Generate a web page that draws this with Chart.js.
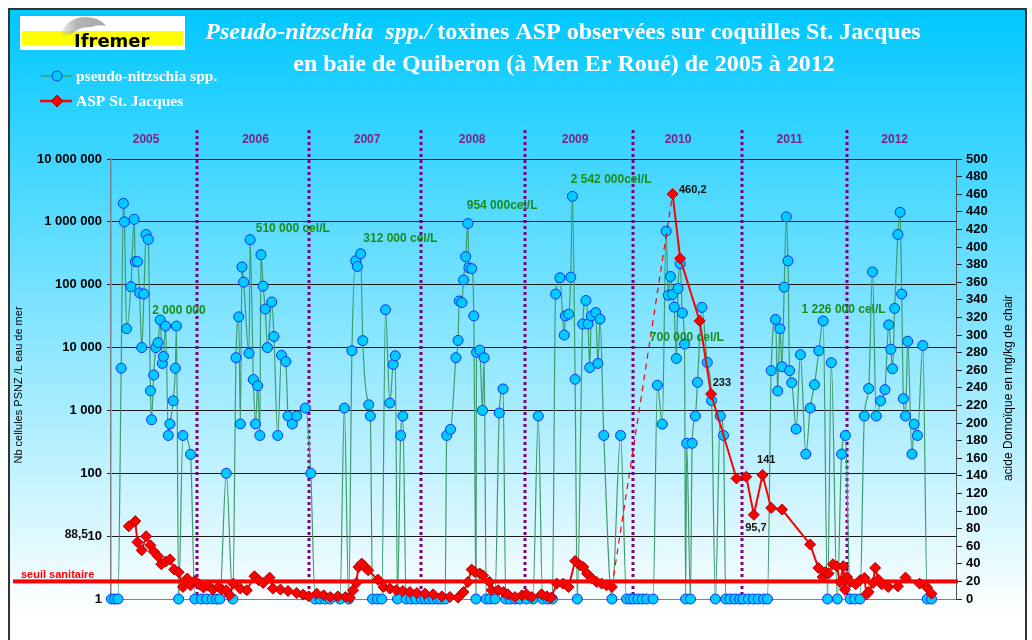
<!DOCTYPE html>
<html>
<head>
<meta charset="utf-8">
<script src="https://cdn.jsdelivr.net/npm/chart.js@4.4.1/dist/chart.umd.min.js"></script>
<style>
  html, body { margin: 0; padding: 0; background: #fff; }
  canvas { display: block; }
</style>
</head>
<body>
<canvas id="chart" width="1032" height="640"></canvas>
<script>
// Pseudo-nitzschia counts (cells/L), sampling dates as decimal years
const pnDates = [
  2005.21, 2005.24, 2005.27, 2005.30, 2005.32, 2005.33, 2005.35, 2005.39, 2005.42, 2005.43, 2005.45, 2005.47,
  2005.49, 2005.51, 2005.53, 2005.55, 2005.57, 2005.58, 2005.60, 2005.62, 2005.64, 2005.66, 2005.68, 2005.69,
  2005.71, 2005.735, 2005.75, 2005.78, 2005.80, 2005.81, 2005.83, 2005.87, 2005.94, 2005.98,
  2006.04, 2006.09, 2006.14, 2006.18, 2006.21, 2006.27, 2006.33, 2006.36, 2006.385, 2006.40, 2006.415, 2006.43,
  2006.48, 2006.49, 2006.52, 2006.54, 2006.56, 2006.58, 2006.59, 2006.61, 2006.63, 2006.65, 2006.69, 2006.71,
  2006.745, 2006.78, 2006.82, 2006.84, 2006.88, 2006.92, 2007.00, 2007.05,
  2007.09, 2007.135, 2007.18, 2007.23, 2007.32, 2007.36, 2007.40, 2007.43, 2007.465, 2007.48, 2007.51, 2007.53,
  2007.585, 2007.60, 2007.62, 2007.665, 2007.705, 2007.74, 2007.78, 2007.81, 2007.83, 2007.85, 2007.88, 2007.90,
  2007.93, 2007.975,
  2008.02, 2008.07, 2008.105, 2008.14, 2008.18, 2008.22, 2008.25, 2008.29, 2008.305, 2008.34, 2008.39, 2008.41,
  2008.42, 2008.445, 2008.46, 2008.48, 2008.50, 2008.51, 2008.535, 2008.555, 2008.575, 2008.58, 2008.61, 2008.635,
  2008.65, 2008.67, 2008.705, 2008.75, 2008.79, 2008.825, 2008.85, 2008.89, 2008.935, 2008.98,
  2009.04, 2009.10, 2009.15, 2009.19, 2009.24, 2009.28, 2009.31, 2009.35, 2009.39, 2009.40, 2009.43, 2009.45,
  2009.465, 2009.49, 2009.51, 2009.56, 2009.59, 2009.61, 2009.625, 2009.64, 2009.68, 2009.70, 2009.72, 2009.755,
  2009.83, 2009.91, 2009.965,
  2010.00, 2010.03, 2010.07, 2010.11, 2010.15, 2010.21, 2010.25, 2010.295, 2010.33, 2010.35, 2010.37, 2010.39,
  2010.405, 2010.425, 2010.44, 2010.46, 2010.48, 2010.50, 2010.51, 2010.52, 2010.555, 2010.57, 2010.60, 2010.62,
  2010.66, 2010.71, 2010.75, 2010.785, 2010.83, 2010.86, 2010.88, 2010.92, 2010.965,
  2011.01, 2011.04, 2011.09, 2011.135, 2011.18, 2011.23, 2011.265, 2011.30, 2011.34, 2011.36, 2011.38, 2011.40,
  2011.42, 2011.44, 2011.455, 2011.47, 2011.49, 2011.53, 2011.57, 2011.62, 2011.66, 2011.70, 2011.74, 2011.78,
  2011.82, 2011.855, 2011.91, 2011.95, 2011.985,
  2012.03, 2012.07, 2012.12, 2012.16, 2012.20, 2012.235, 2012.27, 2012.31, 2012.35, 2012.385, 2012.405, 2012.42,
  2012.44, 2012.47, 2012.49, 2012.505, 2012.52, 2012.54, 2012.56, 2012.60, 2012.62, 2012.65, 2012.70, 2012.74,
  2012.78
];
const pnCells = [
  1, 1, 1, 4700, 1970000, 1000000, 20000, 93000, 1100000, 233000, 233000, 74000,
  10000, 71000, 630000, 525000, 2050, 710, 3660, 10000, 12000, 27500, 5600, 7200,
  22000, 400, 610, 1420, 4700, 22000, 1, 400, 200, 1,
  1, 1, 1, 1, 1, 100, 1, 6900, 30800, 610, 191000, 110000,
  8100, 520000, 3100, 610, 2470, 400, 300000, 95000, 41000, 10000, 53000, 15000,
  400, 7550, 6000, 815, 610, 815, 1090, 100,
  1, 1, 1, 1, 1, 1090, 1, 8900, 240000, 195000, 310000, 12900,
  1230, 815, 1, 1, 1, 40000, 1310, 5400, 7400, 1, 400, 815,
  1, 1,
  1, 1, 1, 1, 1, 1, 1, 1, 400, 500, 6900, 13000,
  55000, 52000, 119000, 279000, 940000, 186000, 180000, 31900, 1, 8400, 9100, 1000,
  6900, 1, 1, 1, 910, 2200, 1, 1, 1, 1,
  1, 1, 815, 1, 1, 1, 71000, 129000, 15800, 31900, 34000, 132000,
  2542000, 3130, 1, 23700, 56000, 23700, 4800, 31900, 36000, 5600, 28500, 400,
  1, 400, 1,
  1, 1, 1, 1, 1, 1, 2520, 605, 710000, 68000, 135000, 70000,
  44000, 6700, 87000, 216000, 35500, 11400, 1, 300, 1, 300, 815, 2800,
  43600, 5800, 1430, 1, 815, 400, 1, 1, 1,
  1, 1, 1, 1, 1, 1, 1, 4300, 28000, 2040, 20000, 4950,
  91500, 1200000, 240000, 4300, 2760, 505, 7700, 202, 1090, 2570, 8900, 26500,
  1, 5750, 1, 202, 400,
  1, 1, 1, 815, 2230, 160000, 815, 1420, 2140, 23000, 9400, 4600,
  42000, 630000, 1420000, 71000, 1540, 815, 12600, 202, 605, 400, 10800, 1,
  1
];

// ASP (domoic acid) in scallops, mg/kg
const aspDates = [
  2005.37, 2005.43, 2005.45, 2005.49, 2005.53, 2005.57, 2005.60, 2005.64, 2005.67, 2005.71, 2005.75, 2005.79,
  2005.83, 2005.87, 2005.91, 2005.94, 2005.98,
  2006.02, 2006.06, 2006.10, 2006.145, 2006.20, 2006.23, 2006.27, 2006.30, 2006.335, 2006.40, 2006.46, 2006.53,
  2006.57, 2006.61, 2006.67, 2006.70, 2006.77, 2006.84, 2006.92, 2006.98,
  2007.03, 2007.105, 2007.17, 2007.23, 2007.30, 2007.37, 2007.41, 2007.44, 2007.47, 2007.49, 2007.52, 2007.55,
  2007.58, 2007.67, 2007.72, 2007.78, 2007.84, 2007.90, 2007.965,
  2008.03, 2008.105, 2008.18, 2008.26, 2008.335, 2008.41, 2008.46, 2008.50, 2008.535, 2008.565, 2008.61, 2008.64,
  2008.70, 2008.72, 2008.78, 2008.83, 2008.87, 2008.935,
  2009.00, 2009.04, 2009.09, 2009.18, 2009.23, 2009.27, 2009.32, 2009.38, 2009.43, 2009.49, 2009.535, 2009.565,
  2009.60, 2009.645, 2009.69, 2009.735, 2009.78, 2009.83,
  2010.39, 2010.46, 2010.64, 2010.745, 2010.98,
  2011.07, 2011.14, 2011.22, 2011.30, 2011.40, 2011.66, 2011.735, 2011.775, 2011.80, 2011.83, 2011.87, 2011.905,
  2011.935, 2011.965, 2011.98,
  2012.00, 2012.03, 2012.08, 2012.12, 2012.16, 2012.18, 2012.20, 2012.24, 2012.26, 2012.29, 2012.32, 2012.38,
  2012.47, 2012.54, 2012.67, 2012.74, 2012.78
];
const aspValues = [
  82.7, 88.5, 64.5, 55.4, 71.3, 61, 54, 48.6, 39.5, 42.5, 45, 33.4,
  30.4, 13.7, 23.2, 15.6, 20.5,
  16.7, 13, 15.6, 10.7, 13.7, 10.7, 10, 4.2, 17.5, 11.8, 10, 25.8,
  21.3, 18.2, 24.3, 11.8, 10.7, 9.1, 6.8, 5,
  3, 6.1, 4.2, 2.3, 3, 2.3, 1.6, 10, 18.2, 36.4, 40.3, 36.4,
  32.7, 22, 13.7, 11.8, 10, 9.1, 8,
  6.8, 6.1, 5.3, 3, 2.3, 1.6, 8, 19.3, 33.4, 30.7, 28.9, 26.8,
  19.3, 10, 10, 8, 5.3, 2.3,
  4.2, 5.3, 2.3, 5.3, 3, 1.6, 17.5, 17.5, 13.7, 43.2, 38.3, 36.4,
  28.9, 23.2, 19.3, 17.5, 15.6, 13.7,
  460.2, 387, 316, 233, 137,
  139, 95.7, 141, 103.5, 101.7, 62, 35.3, 25, 30.7, 28.9, 39.5, 37.2,
  19.3, 37.2, 10.7,
  25, 19.3, 16.7, 21.3, 23.9, 5.3, 8, 18.2, 35.3, 22, 16.7, 13.7,
  14.4, 24.3, 17.5, 13, 6.1
];

const seuilSanitaire = 20;

const cellTicks = [1, 10, 100, 1000, 10000, 100000, 1000000, 10000000];
const cellTickLabels = ['1', '10', '100', '1 000', '10 000', '100 000', '1 000 000', '10 000 000'];

const years = ['2005', '2006', '2007', '2008', '2009', '2010', '2011', '2012'];
const yearCentres = [2005.53, 2006.54, 2007.57, 2008.54, 2009.49, 2010.44, 2011.47, 2012.44];
const yearDividers = [2006.0, 2007.03, 2008.07, 2009.03, 2010.02, 2011.03, 2012.0];

// peak annotations: cell counts (left axis) and ASP values (right axis)
const cellNotes = ['2 000 000', '510 000 cel/L', '312 000 cel/L', '954 000cel/L', '2 542 000cel/L', '700 000 cel/L', '1 226 000 cel/L'];
const cellNoteX = [2005.587, 2006.542, 2007.535, 2008.49, 2009.45, 2010.18, 2011.58];
const cellNoteY = [38600, 769000, 547000, 1790000, 4750000, 14600, 39600];
const aspNotes = ['460,2', '233', '141', '95,7'];
const aspNoteX = [2010.449, 2010.76, 2011.17, 2011.06];
const aspNoteY = [465, 245, 158, 80.4];

const SANS = '"Liberation Sans", Arial, sans-serif';
const SERIF = '"Liberation Serif", "Times New Roman", serif';
const GREEN_LINE = '#3f9c70';
const CYAN = '#00ccff';

const backdrop = {
  id: 'backdrop',
  beforeDraw(chart) {
    const ctx = chart.ctx;
    ctx.save();
    ctx.fillStyle = '#fff';
    ctx.fillRect(0, 0, chart.width, chart.height);
    const g = ctx.createLinearGradient(0, 10, 0, 615);
    g.addColorStop(0, '#00c8ff');
    g.addColorStop(1, '#ffffff');
    ctx.fillStyle = g;
    ctx.fillRect(10, 10, 1015, 630);
    ctx.strokeStyle = '#333';
    ctx.lineWidth = 2;
    ctx.strokeRect(9, 9, 1017, 640);
    ctx.restore();
  }
};

const dividers = {
  id: 'dividers',
  beforeDatasetsDraw(chart) {
    const ctx = chart.ctx, x = chart.scales.x;
    ctx.save();
    ctx.strokeStyle = '#800080';
    ctx.lineWidth = 3;
    ctx.setLineDash([3, 3]);
    yearDividers.forEach(d => {
      const px = Math.round(x.getPixelForValue(d));
      ctx.beginPath();
      ctx.moveTo(px, 130);
      ctx.lineTo(px, chart.chartArea.bottom);
      ctx.stroke();
    });
    ctx.restore();
  }
};

const seuil = {
  id: 'seuil',
  afterDatasetsDraw(chart) {
    const ctx = chart.ctx;
    const y = chart.scales.y1.getPixelForValue(seuilSanitaire);
    ctx.save();
    ctx.fillStyle = '#ff0000';
    ctx.fillRect(13, y - 2, chart.chartArea.right + 2 - 13, 4);
    ctx.font = 'bold 11px ' + SANS;
    ctx.textBaseline = 'alphabetic';
    ctx.fillText('seuil sanitaire', 21, y - 3);
    ctx.restore();
  }
};

function diamond(ctx, x, y, r) {
  ctx.beginPath();
  ctx.moveTo(x, y - r); ctx.lineTo(x + r, y); ctx.lineTo(x, y + r); ctx.lineTo(x - r, y);
  ctx.closePath();
}

const decor = {
  id: 'decor',
  afterDraw(chart) {
    const ctx = chart.ctx;
    const { x, y, y1 } = chart.scales;
    ctx.save();

    // logo
    ctx.fillStyle = '#fff';
    ctx.fillRect(20, 16, 165, 34);
    ctx.fillStyle = '#ffff00';
    ctx.fillRect(22, 31, 161, 14);
    const dg = ctx.createLinearGradient(58, 0, 105, 0);
    dg.addColorStop(0, 'rgba(170,170,170,0)');
    dg.addColorStop(0.4, '#b4b4b4');
    dg.addColorStop(1, '#a8a8a8');
    ctx.fillStyle = dg;
    ctx.beginPath();
    ctx.moveTo(60, 36);
    ctx.quadraticCurveTo(66, 18, 84, 17);
    ctx.quadraticCurveTo(100, 17, 106, 26);
    ctx.quadraticCurveTo(96, 24, 92, 27);
    ctx.quadraticCurveTo(80, 26, 72, 34);
    ctx.closePath();
    ctx.fill();
    ctx.fillStyle = '#000';
    ctx.font = 'bold 18px "DejaVu Sans", sans-serif';
    ctx.textBaseline = 'alphabetic';
    ctx.fillText('Ifremer', 74, 47);

    // title
    ctx.fillStyle = '#fff';
    const f1i = 'italic bold 24px ' + SERIF, f1 = 'bold 24px ' + SERIF;
    const partA = 'Pseudo-nitzschia  spp./', partB = ' toxines ASP observées sur coquilles St. Jacques';
    ctx.font = f1i; const wA = ctx.measureText(partA).width;
    ctx.font = f1; const wB = ctx.measureText(partB).width;
    let sx = 563 - (wA + wB) / 2;
    ctx.font = f1i; ctx.fillText(partA, sx, 39);
    ctx.font = f1; ctx.fillText(partB, sx + wA, 39);
    ctx.textAlign = 'center';
    ctx.fillText('en baie de Quiberon (à Men Er Roué) de 2005 à 2012', 564, 71);

    // legend
    ctx.textAlign = 'left';
    ctx.strokeStyle = GREEN_LINE; ctx.lineWidth = 1.5;
    ctx.beginPath(); ctx.moveTo(41, 76); ctx.lineTo(72, 76); ctx.stroke();
    ctx.fillStyle = CYAN; ctx.strokeStyle = '#1030ff'; ctx.lineWidth = 1;
    ctx.beginPath(); ctx.arc(57, 76, 5, 0, Math.PI * 2); ctx.fill(); ctx.stroke();
    ctx.strokeStyle = '#ff0000'; ctx.lineWidth = 2.5;
    ctx.beginPath(); ctx.moveTo(40, 101); ctx.lineTo(72, 101); ctx.stroke();
    ctx.fillStyle = '#ff0000'; ctx.strokeStyle = '#b00000'; ctx.lineWidth = 1;
    diamond(ctx, 57, 101, 6); ctx.fill(); ctx.stroke();
    ctx.fillStyle = '#fff';
    ctx.font = 'bold 15.5px ' + SERIF;
    ctx.textBaseline = 'middle';
    ctx.fillText('pseudo-nitzschia spp.', 76, 77);
    ctx.fillText('ASP St. Jacques', 76, 102);

    // year labels
    ctx.fillStyle = '#7f1f7f';
    ctx.font = 'bold 12px ' + SANS;
    ctx.textAlign = 'center';
    years.forEach((t, i) => ctx.fillText(t, x.getPixelForValue(yearCentres[i]), 140));

    // peak annotations
    ctx.textAlign = 'left';
    ctx.fillStyle = '#1a8c1a';
    ctx.font = 'bold 12px ' + SANS;
    cellNotes.forEach((t, i) => ctx.fillText(t, x.getPixelForValue(cellNoteX[i]), y.getPixelForValue(cellNoteY[i])));
    ctx.fillStyle = '#111';
    ctx.font = 'bold 11px ' + SANS;
    aspNotes.forEach((t, i) => ctx.fillText(t, x.getPixelForValue(aspNoteX[i]), y1.getPixelForValue(aspNoteY[i])));
    // label of the 2005 ASP maximum, sitting by the left axis
    ctx.font = 'bold 12px ' + SANS;
    ctx.textAlign = 'right';
    ctx.fillText('88,5', 88, y1.getPixelForValue(73));

    // axis titles
    ctx.fillStyle = '#000';
    ctx.textAlign = 'center';
    ctx.font = '11px ' + SANS;
    ctx.save();
    ctx.translate(19, 385); ctx.rotate(-Math.PI / 2);
    ctx.fillText('Nb cellules PSNZ /L eau de mer', 0, 0);
    ctx.restore();
    ctx.font = '12px ' + SANS;
    ctx.save();
    ctx.translate(1009, 388); ctx.rotate(-Math.PI / 2);
    ctx.fillText('acide Domoïque en mg/kg de chair', 0, 0);
    ctx.restore();

    ctx.restore();
  }
};

new Chart(document.getElementById('chart'), {
  type: 'line',
  data: {
    datasets: [
      {
        label: 'pseudo-nitzschia spp.',
        data: pnDates.map((d, i) => ({ x: d, y: pnCells[i] })),
        yAxisID: 'y',
        order: 1,
        borderColor: GREEN_LINE,
        borderWidth: 1.2,
        cubicInterpolationMode: 'monotone',
        pointRadius: 5,
        pointBackgroundColor: CYAN,
        pointBorderColor: '#1030ff',
        pointBorderWidth: 1,
        clip: 10
      },
      {
        label: 'ASP St. Jacques',
        data: aspDates.map((d, i) => ({ x: d, y: aspValues[i] })),
        yAxisID: 'y1',
        order: 0,
        borderColor: '#ff0000',
        borderWidth: 2,
        tension: 0,
        pointStyle: 'rectRot',
        pointRadius: 5.5,
        pointBackgroundColor: '#ff0000',
        pointBorderColor: '#b00000',
        pointBorderWidth: 1,
        clip: 10,
        segment: {
          borderDash: ctx => (ctx.p1.parsed.x - ctx.p0.parsed.x > 0.3 ? [6, 5] : undefined),
          borderWidth: ctx => (ctx.p1.parsed.x - ctx.p0.parsed.x > 0.3 ? 1.2 : 2)
        }
      }
    ]
  },
  options: {
    responsive: false,
    animation: false,
    layout: { padding: { top: 159, bottom: 41, left: 0, right: 0 } },
    plugins: { legend: { display: false }, tooltip: { enabled: false } },
    scales: {
      x: { type: 'linear', min: 2005.206, max: 2013.006, display: false },
      y: {
        type: 'logarithmic',
        position: 'left',
        min: 1,
        max: 10000000,
        afterBuildTicks: s => { s.ticks = cellTicks.map(v => ({ value: v })); },
        afterFit: s => { s.width = 111; },
        ticks: {
          autoSkip: false,
          padding: 5,
          color: '#000',
          font: { family: SANS, size: 13, weight: 'bold' },
          callback: (v, i) => cellTickLabels[i]
        },
        grid: {
          color: c => (c.tick && c.tick.value === 1 ? '#808080' : '#1a1a1a'),
          lineWidth: 1,
          tickLength: 4
        },
        border: { display: true, color: '#808080', width: 1.5 }
      },
      y1: {
        type: 'linear',
        position: 'right',
        min: 0,
        max: 500,
        afterFit: s => { s.width = 76; },
        ticks: {
          stepSize: 20,
          autoSkip: false,
          padding: 4,
          color: '#000',
          font: { family: SANS, size: 13, weight: 'bold' }
        },
        grid: { drawOnChartArea: false, color: '#222', tickLength: 6 },
        border: { display: true, color: '#555', width: 1 }
      }
    }
  },
  plugins: [backdrop, dividers, seuil, decor]
});
</script>
</body>
</html>
